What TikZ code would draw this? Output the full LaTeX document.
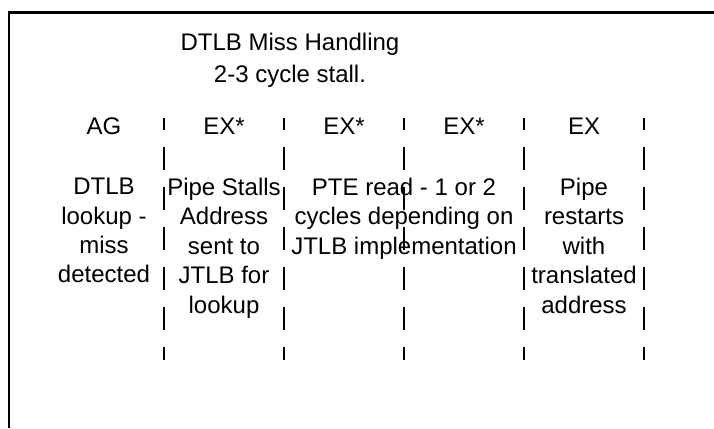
\documentclass[tikz,border=0pt]{standalone}
\usepackage{fontspec}
\setmainfont{Liberation Sans}
\begin{document}
\begin{tikzpicture}[x=1pt,y=-1pt,
  lbl/.style={inner sep=0pt,anchor=north,align=center,font=\fontsize{24}{29.4}\selectfont},
  ttl/.style={inner sep=0pt,anchor=north,align=center,font=\fontsize{24}{32}\selectfont},
  sep/.style={line width=1.3pt,dash pattern=on 23pt off 17pt,dash phase=11pt}]
\useasboundingbox (0,0) rectangle (714,428);
\draw[line width=2.5pt] (9,428) -- (9,12.5) -- (714,12.5);
\draw[sep] (164,118) -- (164,360);
\draw[sep] (284,118) -- (284,360);
\draw[sep] (404,118) -- (404,360);
\draw[sep] (524,118) -- (524,360);
\draw[sep] (644,118) -- (644,360);
\node[ttl] (title) at (290,33) {DTLB Miss Handling\\2-3 cycle stall.};
\node[lbl] (ag) at (104,118) {AG};
\node[lbl] (exa) at (224,118) {EX*};
\node[lbl] (exb) at (344,118) {EX*};
\node[lbl] (exc) at (464,118) {EX*};
\node[lbl] (exd) at (584,118) {EX};
\node[lbl] (lookup) at (104,178) {DTLB\\lookup -\\miss\\detected};
\node[lbl] (stall) at (224,178) {Pipe Stalls\\Address\\sent to\\JTLB for\\lookup};
\node[lbl] (pteread) at (404,178) {PTE read - 1 or 2\\cycles depending on\\JTLB implementation};
\node[lbl] (restart) at (584,178) {Pipe\\restarts\\with\\translated\\address};
\end{tikzpicture}
\end{document}
